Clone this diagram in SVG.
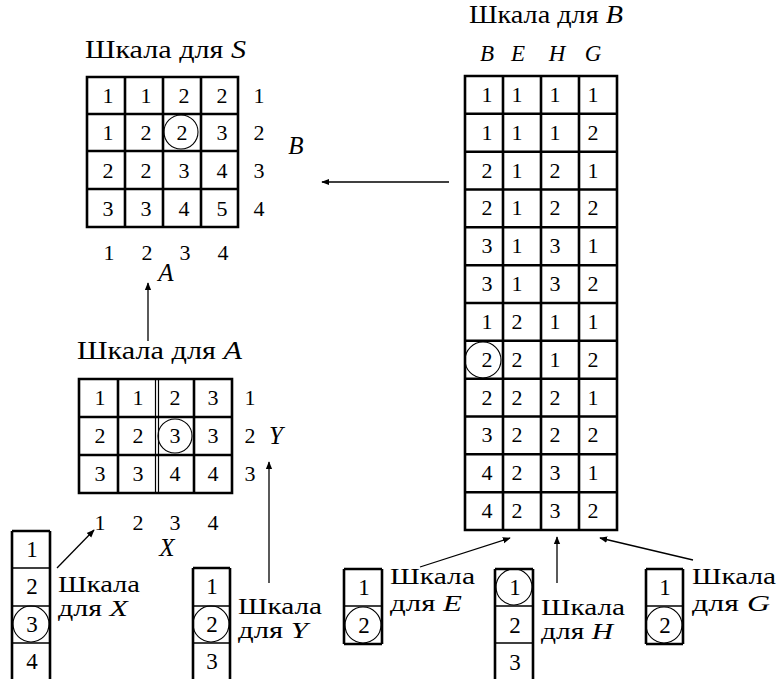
<svg xmlns="http://www.w3.org/2000/svg" id="d" width="779" height="679" viewBox="0 0 779 679">
<style>
#d text, #d tspan, svg g text{font-family:"Liberation Serif",serif !important}
.c{text-anchor:middle}
.i{font-style:italic}
.g{fill:none;stroke:#000;stroke-width:2.6}
.t{fill:none;stroke:#000;stroke-width:1.2}
.k{fill:none;stroke:#000;stroke-width:1.1}
.a{fill:none;stroke:#000;stroke-width:1.3}
</style>
<defs>
<marker id="ah" viewBox="0 0 10 10" refX="9" refY="5" markerWidth="8" markerHeight="8" markerUnits="userSpaceOnUse" orient="auto">
<path d="M0,1 L10,5 L0,9 Z" fill="#000"/>
</marker>
</defs>
<rect width="779" height="679" fill="#fff"/>

<g id="scaleS">
<text style="font-family:'Liberation Serif',serif" x="85" y="58" font-size="25" textLength="161" lengthAdjust="spacingAndGlyphs">Шкала для <tspan class="i">S</tspan></text>
<path class="g" d="M87,77H238V227H87Z M125,77V227 M163,77V227 M201,77V227 M87,114H238 M87,151H238 M87,189H238"/>
<circle class="k" cx="181" cy="132" r="17"/>
<g class="c" font-size="22" style="font-family:'Liberation Serif',serif">
<text x="108" y="103">1</text><text x="146" y="103">1</text><text x="184" y="103">2</text><text x="222" y="103">2</text>
<text x="108" y="140">1</text><text x="146" y="140">2</text><text x="182" y="140">2</text><text x="222" y="140">3</text>
<text x="108" y="178">2</text><text x="146" y="178">2</text><text x="184" y="178">3</text><text x="222" y="178">4</text>
<text x="108" y="216">3</text><text x="146" y="216">3</text><text x="184" y="216">4</text><text x="222" y="216">5</text>
<text x="259" y="103">1</text><text x="259" y="140">2</text><text x="259" y="178">3</text><text x="259" y="216">4</text>
<text x="109" y="260">1</text><text x="147" y="260">2</text><text x="185" y="260">3</text><text x="223" y="260">4</text>
</g>
<g class="c i" font-size="25" style="font-family:'Liberation Serif',serif">
<text x="296" y="154">B</text>
<text x="166" y="281">A</text>
</g>
</g>

<g id="scaleA">
<text style="font-family:'Liberation Serif',serif" x="77" y="359" font-size="25" textLength="165" lengthAdjust="spacingAndGlyphs">Шкала для <tspan class="i">A</tspan></text>
<path class="g" d="M79,379H232V493H79Z M118,379V493 M194,379V493 M79,417H232 M79,455H232"/>
<path class="t" d="M155.5,379V493 M158.5,379V493"/>
<circle class="k" cx="175" cy="436" r="17"/>
<g class="c" font-size="22" style="font-family:'Liberation Serif',serif">
<text x="100" y="405">1</text><text x="138" y="405">1</text><text x="175" y="405">2</text><text x="213" y="405">3</text>
<text x="100" y="443">2</text><text x="138" y="443">2</text><text x="175" y="443">3</text><text x="213" y="443">3</text>
<text x="100" y="481">3</text><text x="138" y="481">3</text><text x="175" y="481">4</text><text x="213" y="481">4</text>
<text x="250" y="405">1</text><text x="250" y="443">2</text><text x="250" y="481">3</text>
<text x="100" y="530">1</text><text x="138" y="530">2</text><text x="175" y="530">3</text><text x="213" y="530">4</text>
</g>
<g class="c i" font-size="25" style="font-family:'Liberation Serif',serif">
<text x="276" y="444">Y</text>
<text x="167" y="556">X</text>
</g>
</g>

<g id="scaleB">
<text style="font-family:'Liberation Serif',serif" x="469" y="23" font-size="25" textLength="154" lengthAdjust="spacingAndGlyphs">Шкала для <tspan class="i">B</tspan></text>
<g class="c i" font-size="23" style="font-family:'Liberation Serif',serif">
<text x="487" y="61">B</text><text x="518" y="61">E</text><text x="557" y="61">H</text><text x="593" y="61">G</text>
</g>
<path class="g" d="M465,76H617V530H465Z M503,76V530 M541,76V530 M579,76V530
M465,113.8H617 M465,151.7H617 M465,189.5H617 M465,227.3H617 M465,265.2H617 M465,303H617
M465,340.8H617 M465,378.7H617 M465,416.5H617 M465,454.3H617 M465,492.2H617"/>
<circle class="k" cx="483" cy="360" r="18"/>
<g class="c" font-size="22" style="font-family:'Liberation Serif',serif">
<text x="487" y="102">1</text><text x="517" y="102">1</text><text x="555" y="102">1</text><text x="593" y="102">1</text>
<text x="487" y="140">1</text><text x="517" y="140">1</text><text x="555" y="140">1</text><text x="593" y="140">2</text>
<text x="487" y="178">2</text><text x="517" y="178">1</text><text x="555" y="178">2</text><text x="593" y="178">1</text>
<text x="487" y="215">2</text><text x="517" y="215">1</text><text x="555" y="215">2</text><text x="593" y="215">2</text>
<text x="487" y="253">3</text><text x="517" y="253">1</text><text x="555" y="253">3</text><text x="593" y="253">1</text>
<text x="487" y="291">3</text><text x="517" y="291">1</text><text x="555" y="291">3</text><text x="593" y="291">2</text>
<text x="487" y="329">1</text><text x="517" y="329">2</text><text x="555" y="329">1</text><text x="593" y="329">1</text>
<text x="487" y="367">2</text><text x="517" y="367">2</text><text x="555" y="367">1</text><text x="593" y="367">2</text>
<text x="487" y="405">2</text><text x="517" y="405">2</text><text x="555" y="405">2</text><text x="593" y="405">1</text>
<text x="487" y="442">3</text><text x="517" y="442">2</text><text x="555" y="442">2</text><text x="593" y="442">2</text>
<text x="487" y="480">4</text><text x="517" y="480">2</text><text x="555" y="480">3</text><text x="593" y="480">1</text>
<text x="487" y="518">4</text><text x="517" y="518">2</text><text x="555" y="518">3</text><text x="593" y="518">2</text>
</g>
</g>

<g id="scaleX">
<path class="g" d="M12,531H50 M12,531V679 M50,531V679"/>
<path class="a" d="M12,568H50 M12,606H50 M12,643H50"/>
<circle class="k" cx="31" cy="624" r="18"/>
<g class="c" font-size="23" style="font-family:'Liberation Serif',serif">
<text x="32" y="557">1</text><text x="32" y="594">2</text><text x="32" y="632">3</text><text x="32" y="669">4</text>
</g>
<g font-size="24" style="font-family:'Liberation Serif',serif">
<text x="58" y="592" textLength="82" lengthAdjust="spacingAndGlyphs">Шкала</text>
<text x="58" y="616" textLength="70" lengthAdjust="spacingAndGlyphs">для <tspan class="i">X</tspan></text>
</g>
</g>

<g id="scaleY">
<path class="g" d="M193,568H230 M193,568V679 M230,568V679"/>
<path class="a" d="M193,606H230 M193,643H230"/>
<circle class="k" cx="211" cy="624" r="18"/>
<g class="c" font-size="23" style="font-family:'Liberation Serif',serif">
<text x="212" y="594">1</text><text x="212" y="632">2</text><text x="212" y="669">3</text>
</g>
<g font-size="24" style="font-family:'Liberation Serif',serif">
<text x="238" y="614" textLength="84" lengthAdjust="spacingAndGlyphs">Шкала</text>
<text x="238" y="638" textLength="70" lengthAdjust="spacingAndGlyphs">для <tspan class="i">Y</tspan></text>
</g>
</g>

<g id="scaleE">
<path class="g" d="M344,569H382 M344,569V644 M382,569V644 M344,644H382"/>
<path class="a" d="M344,606H382"/>
<circle class="k" cx="363" cy="625" r="18"/>
<g class="c" font-size="23" style="font-family:'Liberation Serif',serif"><text x="364" y="595">1</text><text x="364" y="633">2</text></g>
<g font-size="24" style="font-family:'Liberation Serif',serif">
<text x="390" y="584" textLength="85" lengthAdjust="spacingAndGlyphs">Шкала</text>
<text x="390" y="611" textLength="72" lengthAdjust="spacingAndGlyphs">для <tspan class="i">E</tspan></text>
</g>
</g>

<g id="scaleH">
<path class="g" d="M495,569H533 M495,569V679 M533,569V679"/>
<path class="a" d="M495,606H533 M495,643H533"/>
<circle class="k" cx="514" cy="587" r="18"/>
<g class="c" font-size="23" style="font-family:'Liberation Serif',serif"><text x="515" y="595">1</text><text x="515" y="633">2</text><text x="515" y="670">3</text></g>
<g font-size="24" style="font-family:'Liberation Serif',serif">
<text x="541" y="615" textLength="84" lengthAdjust="spacingAndGlyphs">Шкала</text>
<text x="541" y="639" textLength="72" lengthAdjust="spacingAndGlyphs">для <tspan class="i">H</tspan></text>
</g>
</g>

<g id="scaleG">
<path class="g" d="M646,569H683 M646,569V644 M683,569V644 M646,644H683"/>
<path class="a" d="M646,606H683"/>
<circle class="k" cx="664" cy="625" r="18"/>
<g class="c" font-size="23" style="font-family:'Liberation Serif',serif"><text x="665" y="595">1</text><text x="665" y="633">2</text></g>
<g font-size="24" style="font-family:'Liberation Serif',serif">
<text x="692" y="584" textLength="84" lengthAdjust="spacingAndGlyphs">Шкала</text>
<text x="692" y="611" textLength="78" lengthAdjust="spacingAndGlyphs">для <tspan class="i">G</tspan></text>
</g>
</g>

<g id="connectors" class="a">
<line x1="449" y1="182" x2="322" y2="182" marker-end="url(#ah)"/>
<line x1="148" y1="341" x2="148" y2="283" marker-end="url(#ah)"/>
<line x1="269" y1="583" x2="269" y2="462" marker-end="url(#ah)"/>
<line x1="57" y1="568" x2="94" y2="530" marker-end="url(#ah)"/>
<line x1="420" y1="567" x2="510" y2="538" marker-end="url(#ah)"/>
<line x1="557" y1="583" x2="557" y2="537" marker-end="url(#ah)"/>
<line x1="693" y1="560" x2="600" y2="538" marker-end="url(#ah)"/>
</g>
</svg>
